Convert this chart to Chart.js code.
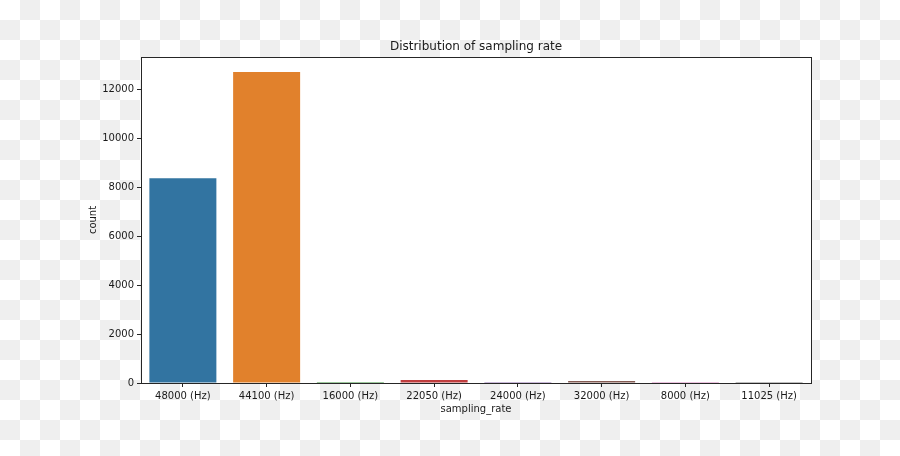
<!DOCTYPE html>
<html>
<head>
<meta charset="utf-8">
<script src="https://cdn.jsdelivr.net/npm/chart.js@4/dist/chart.umd.min.js"></script>
<style>
  html, body { margin: 0; padding: 0; }
  body {
    width: 900px; height: 456px; overflow: hidden;
    background: repeating-conic-gradient(#efefef 0% 25%, #ffffff 0% 50%) 0 0 / 40px 40px;
  }
  #wrap { position: relative; width: 900px; height: 456px; }
</style>
</head>
<body>
<div id="wrap"><canvas id="c" width="900" height="456"></canvas></div>
<script>
const chartTitle = "Distribution of sampling rate";
const categories = ["48000 (Hz)", "44100 (Hz)", "16000 (Hz)", "22050 (Hz)", "24000 (Hz)", "32000 (Hz)", "8000 (Hz)", "11025 (Hz)"];
const counts = [8380, 12720, 45, 125, 40, 85, 2, 1];
const barColors = ["#3274a1", "#e1812c", "#3a923a", "#c03d3e", "#9372b2", "#845b53", "#d684bd", "#7f7f7f"];
const yTicks = [0, 2000, 4000, 6000, 8000, 10000, 12000];

const FONT = "'DejaVu Sans', sans-serif";
const TEXT = "#1a1a1a";
const SPINE = "#262626";

const framePlugin = {
  id: 'frame',
  beforeDraw(chart) {
    const {ctx, chartArea: a} = chart;
    ctx.save();
    ctx.fillStyle = '#ffffff';
    ctx.fillRect(a.left, a.top, a.right - a.left, a.bottom - a.top);
    ctx.restore();
  },
  afterDraw(chart) {
    const {ctx, chartArea: a} = chart;
    ctx.save();
    ctx.strokeStyle = SPINE;
    ctx.lineWidth = 1;
    const l = Math.round(a.left) + 0.5, r = Math.round(a.right) + 0.5;
    const t = Math.round(a.top) + 0.5, b = Math.round(a.bottom) + 0.5;
    ctx.strokeRect(l, t, r - l, b - t);
    // title centred over the axes
    ctx.fillStyle = TEXT;
    ctx.font = "12px " + FONT;
    ctx.textAlign = 'center';
    ctx.textBaseline = 'middle';
    ctx.fillText(chartTitle, (a.left + a.right) / 2, 47);
    ctx.restore();
  }
};

new Chart(document.getElementById('c'), {
  type: 'bar',
  data: {
    labels: categories,
    datasets: [{
      data: counts,
      backgroundColor: barColors,
      borderWidth: 0,
      categoryPercentage: 1.0,
      barPercentage: 0.8
    }]
  },
  options: {
    responsive: false,
    animation: false,
    devicePixelRatio: 1,
    layout: { padding: { left: 0, right: 89, top: 57, bottom: 0 } },
    plugins: {
      legend: { display: false },
      tooltip: { enabled: false },
      title: { display: false }
    },
    scales: {
      x: {
        type: 'category',
        offset: true,
        grid: {
          display: true, offset: false, drawOnChartArea: false, drawTicks: true,
          tickLength: 4, color: SPINE, lineWidth: 1
        },
        border: { display: false },
        ticks: {
          color: TEXT, font: { family: FONT, size: 10 }, padding: 3,
          maxRotation: 0, autoSkip: false
        },
        title: {
          display: true, text: 'sampling_rate', color: TEXT,
          font: { family: FONT, size: 10, lineHeight: 1.2 },
          padding: { top: 0, bottom: 41 }
        },
        afterFit(scale) { scale.height = 73; }
      },
      y: {
        type: 'linear',
        min: 0,
        max: 13335,
        afterBuildTicks(scale) { scale.ticks = yTicks.map(v => ({ value: v })); },
        grid: {
          display: true, drawOnChartArea: false, drawTicks: true,
          tickLength: 4, color: SPINE, lineWidth: 1
        },
        border: { display: false },
        ticks: {
          color: TEXT, font: { family: FONT, size: 10 }, padding: 3,
          callback: (v) => String(v)
        },
        title: {
          display: true, text: 'count', color: TEXT,
          font: { family: FONT, size: 10, lineHeight: 1.2 },
          padding: { top: 87, bottom: 0 }
        },
        afterFit(scale) { scale.width = 141; }
      }
    }
  },
  plugins: [framePlugin]
});
</script>
</body>
</html>
